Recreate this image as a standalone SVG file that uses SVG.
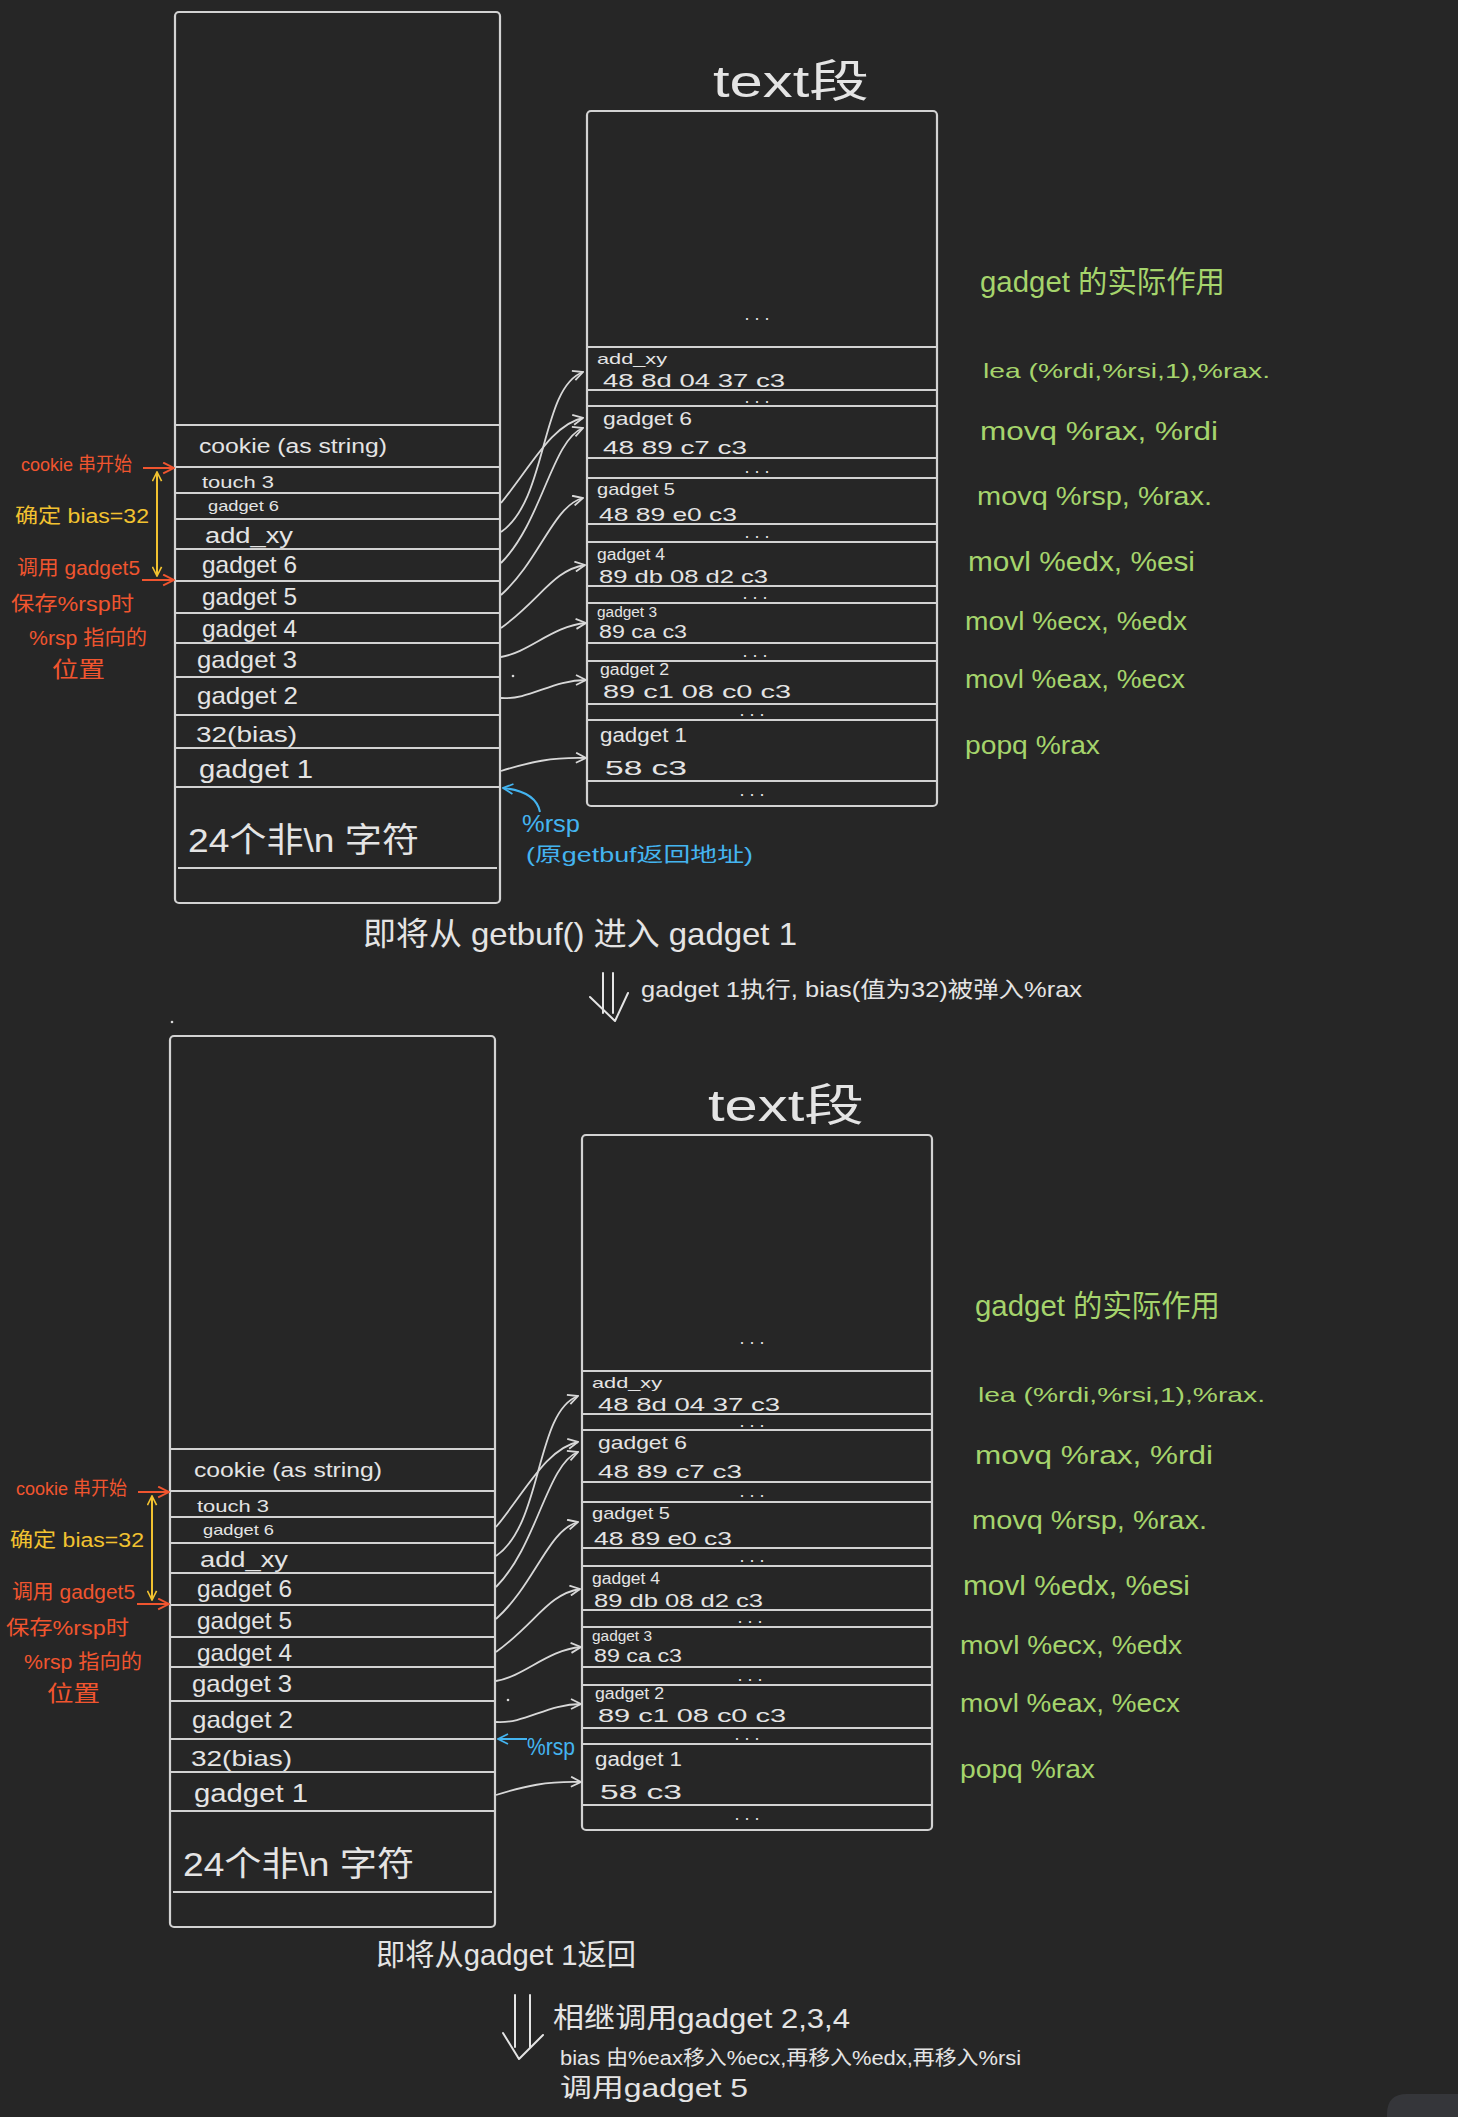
<svg xmlns="http://www.w3.org/2000/svg" width="1458" height="2117" viewBox="0 0 1458 2117">
<defs>
<style>
.ln{stroke:#d2d2d2;stroke-width:2;fill:none}
.bx{stroke:#d2d2d2;stroke-width:2.2;fill:none}
text{font-family:"Liberation Sans","Noto Sans CJK SC",sans-serif}
.w{fill:#e4e4e4}
.r{fill:#f0552f}
.y{fill:#f2c230}
.b{fill:#44b4f0}
.g{fill:#a5d46c}
.d{fill:#e4e4e4;font-size:18px;text-anchor:middle}
.cn{stroke:#d8d8d8;stroke-width:1.8;fill:none;marker-end:url(#ah)}
.ra{stroke:#f0552f;stroke-width:2;fill:none;marker-end:url(#ahr)}
.ya{stroke:#f2c230;stroke-width:2;fill:none;marker-end:url(#ahy);marker-start:url(#ahy)}
.ba{stroke:#44b4f0;stroke-width:2;fill:none;marker-end:url(#ahb)}
.dn{stroke:#e4e4e4;stroke-width:2;fill:none;stroke-linecap:round;stroke-linejoin:round}
</style>
<marker id="ah" viewBox="0 0 12 12" refX="11" refY="6" markerWidth="12" markerHeight="12" markerUnits="userSpaceOnUse" orient="auto"><path d="M1,1 L11,6 L1,11" fill="none" stroke="#d8d8d8" stroke-width="1.8"/></marker>
<marker id="ahr" viewBox="0 0 12 12" refX="11" refY="6" markerWidth="13" markerHeight="13" markerUnits="userSpaceOnUse" orient="auto"><path d="M1,1 L11,6 L1,11" fill="none" stroke="#f0552f" stroke-width="1.8"/></marker>
<marker id="ahy" viewBox="0 0 12 12" refX="11" refY="6" markerWidth="11" markerHeight="11" markerUnits="userSpaceOnUse" orient="auto-start-reverse"><path d="M1,1 L11,6 L1,11" fill="none" stroke="#f2c230" stroke-width="1.8"/></marker>
<marker id="ahb" viewBox="0 0 12 12" refX="11" refY="6" markerWidth="12" markerHeight="12" markerUnits="userSpaceOnUse" orient="auto"><path d="M1,1 L11,6 L1,11" fill="none" stroke="#44b4f0" stroke-width="1.8"/></marker>
</defs>
<rect x="0" y="0" width="1458" height="2117" fill="#262626"/>
<path d="M1387,2117 L1387,2114 Q1387,2094 1407,2094 L1458,2094 L1458,2117 Z" fill="#35363a"/>

<!-- ================= PANEL 1 ================= -->
<g id="panel1">
 <g id="p1-stack">
  <rect class="bx" x="175" y="12" width="325" height="891" rx="4"/>
  <path class="ln" d="M175,425H500M175,467H500M175,493H500M175,519H500M175,549H500M175,581H500M175,613H500M175,643H500M175,677H500M175,715H500M175,748H500M175,787H500M178,868H497"/>
  <g id="p1-cookie"><text class="w" x="199" y="453" font-size="20" textLength="188" lengthAdjust="spacingAndGlyphs">cookie (as string)</text></g>
  <g id="p1-touch3"><text class="w" x="202" y="488" font-size="16" textLength="72" lengthAdjust="spacingAndGlyphs">touch 3</text></g>
  <g id="p1-g6s"><text class="w" x="208" y="511" font-size="15" textLength="71" lengthAdjust="spacingAndGlyphs">gadget 6</text></g>
  <g id="p1-addxy"><text class="w" x="205" y="543" font-size="22" textLength="88" lengthAdjust="spacingAndGlyphs">add_xy</text></g>
  <g id="p1-g6"><text class="w" x="202" y="573" font-size="24" textLength="95" lengthAdjust="spacingAndGlyphs">gadget 6</text></g>
  <g id="p1-g5"><text class="w" x="202" y="605" font-size="24" textLength="95" lengthAdjust="spacingAndGlyphs">gadget 5</text></g>
  <g id="p1-g4"><text class="w" x="202" y="637" font-size="24" textLength="95" lengthAdjust="spacingAndGlyphs">gadget 4</text></g>
  <g id="p1-g3"><text class="w" x="197" y="668" font-size="24" textLength="100" lengthAdjust="spacingAndGlyphs">gadget 3</text></g>
  <g id="p1-g2"><text class="w" x="197" y="704" font-size="24" textLength="101" lengthAdjust="spacingAndGlyphs">gadget 2</text></g>
  <g id="p1-bias"><text class="w" x="196" y="742" font-size="22" textLength="101" lengthAdjust="spacingAndGlyphs">32(bias)</text></g>
  <g id="p1-g1"><text class="w" x="199" y="778" font-size="26" textLength="114" lengthAdjust="spacingAndGlyphs">gadget 1</text></g>
  <g id="p1-buf"><text class="w" x="188" y="852" font-size="34" textLength="231" lengthAdjust="spacingAndGlyphs">24个非\n 字符</text></g>
 </g>
 <g id="p1-notes">
  <text class="r" x="21" y="471" font-size="19" textLength="111" lengthAdjust="spacingAndGlyphs">cookie 串开始</text>
  <text class="y" x="15" y="523" font-size="20" textLength="134" lengthAdjust="spacingAndGlyphs">确定 bias=32</text>
  <text class="r" x="17" y="575" font-size="20" textLength="123" lengthAdjust="spacingAndGlyphs">调用 gadget5</text>
  <text class="r" x="11" y="611" font-size="20" textLength="123" lengthAdjust="spacingAndGlyphs">保存%rsp时</text>
  <text class="r" x="29" y="645" font-size="20" textLength="118" lengthAdjust="spacingAndGlyphs">%rsp 指向的</text>
  <text class="r" x="52" y="677" font-size="22" textLength="53" lengthAdjust="spacingAndGlyphs">位置</text>
  <path class="ra" d="M143,468H174"/>
  <path class="ra" d="M142,580H174"/>
  <path class="ya" d="M157,472V576"/>
 </g>
 <g id="p1-rsp">
  <path class="ba" d="M540,812 C537,797 523,790 503,788"/>
  <text class="b" x="522" y="832" font-size="24" textLength="58" lengthAdjust="spacingAndGlyphs">%rsp</text>
  <text class="b" x="526" y="862" font-size="20" textLength="227" lengthAdjust="spacingAndGlyphs">(原getbuf返回地址)</text>
 </g>
 <g id="p1-textseg">
  <text class="w" x="713" y="97" font-size="44" textLength="156" lengthAdjust="spacingAndGlyphs">text段</text>
  <rect class="bx" x="587" y="111" width="350" height="695" rx="4"/>
  <path class="ln" d="M587,347H937M587,390H937M587,406H937M587,458H937M587,478H937M587,524H937M587,542H937M587,586H937M587,603H937M587,643H937M587,661H937M587,704H937M587,720H937M587,781H937"/>
  <text class="d" x="757" y="320">. . .</text>
  <g id="p1-t-addxy"><text class="w" x="597" y="364" font-size="15" textLength="70" lengthAdjust="spacingAndGlyphs">add_xy</text><text class="w" x="603" y="387" font-size="19" textLength="182" lengthAdjust="spacingAndGlyphs">48 8d  04 37 c3</text></g>
  <text class="d" x="757" y="403">. . .</text>
  <g id="p1-t-g6"><text class="w" x="603" y="425" font-size="19" textLength="89" lengthAdjust="spacingAndGlyphs">gadget 6</text><text class="w" x="603" y="454" font-size="19" textLength="144" lengthAdjust="spacingAndGlyphs">48 89 c7 c3</text></g>
  <text class="d" x="757" y="473">. . .</text>
  <g id="p1-t-g5"><text class="w" x="597" y="495" font-size="17" textLength="78" lengthAdjust="spacingAndGlyphs">gadget 5</text><text class="w" x="599" y="521" font-size="19" textLength="138" lengthAdjust="spacingAndGlyphs">48 89 e0 c3</text></g>
  <text class="d" x="757" y="538">. . .</text>
  <g id="p1-t-g4"><text class="w" x="597" y="560" font-size="16" textLength="68" lengthAdjust="spacingAndGlyphs">gadget 4</text><text class="w" x="599" y="583" font-size="19" textLength="169" lengthAdjust="spacingAndGlyphs">89 db 08 d2  c3</text></g>
  <text class="d" x="755" y="599">. . .</text>
  <g id="p1-t-g3"><text class="w" x="597" y="617" font-size="14" textLength="60" lengthAdjust="spacingAndGlyphs">gadget 3</text><text class="w" x="599" y="638" font-size="18" textLength="88" lengthAdjust="spacingAndGlyphs">89 ca  c3</text></g>
  <text class="d" x="755" y="657">. . .</text>
  <g id="p1-t-g2"><text class="w" x="600" y="675" font-size="16" textLength="69" lengthAdjust="spacingAndGlyphs">gadget 2</text><text class="w" x="603" y="698" font-size="19" textLength="188" lengthAdjust="spacingAndGlyphs">89 c1  08 c0  c3</text></g>
  <text class="d" x="752" y="716">. . .</text>
  <g id="p1-t-g1"><text class="w" x="600" y="742" font-size="20" textLength="87" lengthAdjust="spacingAndGlyphs">gadget 1</text><text class="w" x="605" y="775" font-size="20" textLength="82" lengthAdjust="spacingAndGlyphs">58   c3</text></g>
  <text class="d" x="752" y="796">. . .</text>
 </g>
 <g id="p1-effects">
  <text class="g" x="980" y="292" font-size="30" textLength="245" lengthAdjust="spacingAndGlyphs">gadget 的实际作用</text>
  <text class="g" x="983" y="378" font-size="21" textLength="287" lengthAdjust="spacingAndGlyphs">lea  (%rdi,%rsi,1),%rax.</text>
  <text class="g" x="980" y="440" font-size="26" textLength="238" lengthAdjust="spacingAndGlyphs">movq  %rax, %rdi</text>
  <text class="g" x="977" y="505" font-size="26" textLength="235" lengthAdjust="spacingAndGlyphs">movq  %rsp, %rax.</text>
  <text class="g" x="968" y="571" font-size="28" textLength="227" lengthAdjust="spacingAndGlyphs">movl  %edx, %esi</text>
  <text class="g" x="965" y="630" font-size="26" textLength="222" lengthAdjust="spacingAndGlyphs">movl  %ecx, %edx</text>
  <text class="g" x="965" y="688" font-size="26" textLength="220" lengthAdjust="spacingAndGlyphs">movl  %eax, %ecx</text>
  <text class="g" x="965" y="754" font-size="26" textLength="135" lengthAdjust="spacingAndGlyphs">popq  %rax</text>
 </g>
 <g id="p1-connectors">
  <path class="cn" d="M501,503 C530,468 552,424 583,418"/>
  <path class="cn" d="M501,532 C548,500 540,388 583,372"/>
  <path class="cn" d="M501,563 C542,522 552,440 583,428"/>
  <path class="cn" d="M501,595 C540,560 553,506 583,498"/>
  <path class="cn" d="M501,628 C540,600 553,570 585,565"/>
  <path class="cn" d="M501,657 C530,652 552,626 586,623"/>
  <path class="cn" d="M501,698 C530,700 552,680 586,680"/>
  <path class="cn" d="M501,771 C530,762 552,757 586,758"/>
 </g>
 <circle cx="513" cy="676" r="1.3" fill="#d8d8d8"/>
</g>

<g id="step1">
 <text class="w" x="363" y="945" font-size="32" textLength="434" lengthAdjust="spacingAndGlyphs">即将从 getbuf() 进入 gadget 1</text>
 <path class="dn" d="M603,973V1013M613,973V1013M590,997L615,1021L628,993"/>
 <text class="w" x="641" y="997" font-size="22" textLength="441" lengthAdjust="spacingAndGlyphs">gadget 1执行, bias(值为32)被弹入%rax</text>
 <circle cx="172" cy="1022" r="1.3" fill="#d8d8d8"/>
</g>

<!-- ================= PANEL 2 ================= -->
<g id="panel2" transform="translate(-5,1024)">
 <g id="p2-stack">
  <rect class="bx" x="175" y="12" width="325" height="891" rx="4"/>
  <path class="ln" d="M175,425H500M175,467H500M175,493H500M175,519H500M175,549H500M175,581H500M175,613H500M175,643H500M175,677H500M175,715H500M175,748H500M175,787H500M178,868H497"/>
  <g id="p2-cookie"><text class="w" x="199" y="453" font-size="20" textLength="188" lengthAdjust="spacingAndGlyphs">cookie (as string)</text></g>
  <g id="p2-touch3"><text class="w" x="202" y="488" font-size="16" textLength="72" lengthAdjust="spacingAndGlyphs">touch 3</text></g>
  <g id="p2-g6s"><text class="w" x="208" y="511" font-size="15" textLength="71" lengthAdjust="spacingAndGlyphs">gadget 6</text></g>
  <g id="p2-addxy"><text class="w" x="205" y="543" font-size="22" textLength="88" lengthAdjust="spacingAndGlyphs">add_xy</text></g>
  <g id="p2-g6"><text class="w" x="202" y="573" font-size="24" textLength="95" lengthAdjust="spacingAndGlyphs">gadget 6</text></g>
  <g id="p2-g5"><text class="w" x="202" y="605" font-size="24" textLength="95" lengthAdjust="spacingAndGlyphs">gadget 5</text></g>
  <g id="p2-g4"><text class="w" x="202" y="637" font-size="24" textLength="95" lengthAdjust="spacingAndGlyphs">gadget 4</text></g>
  <g id="p2-g3"><text class="w" x="197" y="668" font-size="24" textLength="100" lengthAdjust="spacingAndGlyphs">gadget 3</text></g>
  <g id="p2-g2"><text class="w" x="197" y="704" font-size="24" textLength="101" lengthAdjust="spacingAndGlyphs">gadget 2</text></g>
  <g id="p2-bias"><text class="w" x="196" y="742" font-size="22" textLength="101" lengthAdjust="spacingAndGlyphs">32(bias)</text></g>
  <g id="p2-g1"><text class="w" x="199" y="778" font-size="26" textLength="114" lengthAdjust="spacingAndGlyphs">gadget 1</text></g>
  <g id="p2-buf"><text class="w" x="188" y="852" font-size="34" textLength="231" lengthAdjust="spacingAndGlyphs">24个非\n 字符</text></g>
 </g>
 <g id="p2-notes">
  <text class="r" x="21" y="471" font-size="19" textLength="111" lengthAdjust="spacingAndGlyphs">cookie 串开始</text>
  <text class="y" x="15" y="523" font-size="20" textLength="134" lengthAdjust="spacingAndGlyphs">确定 bias=32</text>
  <text class="r" x="17" y="575" font-size="20" textLength="123" lengthAdjust="spacingAndGlyphs">调用 gadget5</text>
  <text class="r" x="11" y="611" font-size="20" textLength="123" lengthAdjust="spacingAndGlyphs">保存%rsp时</text>
  <text class="r" x="29" y="645" font-size="20" textLength="118" lengthAdjust="spacingAndGlyphs">%rsp 指向的</text>
  <text class="r" x="52" y="677" font-size="22" textLength="53" lengthAdjust="spacingAndGlyphs">位置</text>
  <path class="ra" d="M143,468H174"/>
  <path class="ra" d="M142,580H174"/>
  <path class="ya" d="M157,472V576"/>
 </g>
 <g id="p2-rsp">
  <path class="ba" d="M532,715H503"/>
  <text class="b" x="532" y="731" font-size="24" textLength="48" lengthAdjust="spacingAndGlyphs">%rsp</text>
 </g>
 <g id="p2-textseg">
  <text class="w" x="713" y="97" font-size="44" textLength="156" lengthAdjust="spacingAndGlyphs">text段</text>
  <rect class="bx" x="587" y="111" width="350" height="695" rx="4"/>
  <path class="ln" d="M587,347H937M587,390H937M587,406H937M587,458H937M587,478H937M587,524H937M587,542H937M587,586H937M587,603H937M587,643H937M587,661H937M587,704H937M587,720H937M587,781H937"/>
  <text class="d" x="757" y="320">. . .</text>
  <g id="p2-t-addxy"><text class="w" x="597" y="364" font-size="15" textLength="70" lengthAdjust="spacingAndGlyphs">add_xy</text><text class="w" x="603" y="387" font-size="19" textLength="182" lengthAdjust="spacingAndGlyphs">48 8d  04 37 c3</text></g>
  <text class="d" x="757" y="403">. . .</text>
  <g id="p2-t-g6"><text class="w" x="603" y="425" font-size="19" textLength="89" lengthAdjust="spacingAndGlyphs">gadget 6</text><text class="w" x="603" y="454" font-size="19" textLength="144" lengthAdjust="spacingAndGlyphs">48 89 c7 c3</text></g>
  <text class="d" x="757" y="473">. . .</text>
  <g id="p2-t-g5"><text class="w" x="597" y="495" font-size="17" textLength="78" lengthAdjust="spacingAndGlyphs">gadget 5</text><text class="w" x="599" y="521" font-size="19" textLength="138" lengthAdjust="spacingAndGlyphs">48 89 e0 c3</text></g>
  <text class="d" x="757" y="538">. . .</text>
  <g id="p2-t-g4"><text class="w" x="597" y="560" font-size="16" textLength="68" lengthAdjust="spacingAndGlyphs">gadget 4</text><text class="w" x="599" y="583" font-size="19" textLength="169" lengthAdjust="spacingAndGlyphs">89 db 08 d2  c3</text></g>
  <text class="d" x="755" y="599">. . .</text>
  <g id="p2-t-g3"><text class="w" x="597" y="617" font-size="14" textLength="60" lengthAdjust="spacingAndGlyphs">gadget 3</text><text class="w" x="599" y="638" font-size="18" textLength="88" lengthAdjust="spacingAndGlyphs">89 ca  c3</text></g>
  <text class="d" x="755" y="657">. . .</text>
  <g id="p2-t-g2"><text class="w" x="600" y="675" font-size="16" textLength="69" lengthAdjust="spacingAndGlyphs">gadget 2</text><text class="w" x="603" y="698" font-size="19" textLength="188" lengthAdjust="spacingAndGlyphs">89 c1  08 c0  c3</text></g>
  <text class="d" x="752" y="716">. . .</text>
  <g id="p2-t-g1"><text class="w" x="600" y="742" font-size="20" textLength="87" lengthAdjust="spacingAndGlyphs">gadget 1</text><text class="w" x="605" y="775" font-size="20" textLength="82" lengthAdjust="spacingAndGlyphs">58   c3</text></g>
  <text class="d" x="752" y="796">. . .</text>
 </g>
 <g id="p2-effects">
  <text class="g" x="980" y="292" font-size="30" textLength="245" lengthAdjust="spacingAndGlyphs">gadget 的实际作用</text>
  <text class="g" x="983" y="378" font-size="21" textLength="287" lengthAdjust="spacingAndGlyphs">lea  (%rdi,%rsi,1),%rax.</text>
  <text class="g" x="980" y="440" font-size="26" textLength="238" lengthAdjust="spacingAndGlyphs">movq  %rax, %rdi</text>
  <text class="g" x="977" y="505" font-size="26" textLength="235" lengthAdjust="spacingAndGlyphs">movq  %rsp, %rax.</text>
  <text class="g" x="968" y="571" font-size="28" textLength="227" lengthAdjust="spacingAndGlyphs">movl  %edx, %esi</text>
  <text class="g" x="965" y="630" font-size="26" textLength="222" lengthAdjust="spacingAndGlyphs">movl  %ecx, %edx</text>
  <text class="g" x="965" y="688" font-size="26" textLength="220" lengthAdjust="spacingAndGlyphs">movl  %eax, %ecx</text>
  <text class="g" x="965" y="754" font-size="26" textLength="135" lengthAdjust="spacingAndGlyphs">popq  %rax</text>
 </g>
 <g id="p2-connectors">
  <path class="cn" d="M501,503 C530,468 552,424 583,418"/>
  <path class="cn" d="M501,532 C548,500 540,388 583,372"/>
  <path class="cn" d="M501,563 C542,522 552,440 583,428"/>
  <path class="cn" d="M501,595 C540,560 553,506 583,498"/>
  <path class="cn" d="M501,628 C540,600 553,570 585,565"/>
  <path class="cn" d="M501,657 C530,652 552,626 586,623"/>
  <path class="cn" d="M501,698 C530,700 552,680 586,680"/>
  <path class="cn" d="M501,771 C530,762 552,757 586,758"/>
 </g>
 <circle cx="513" cy="676" r="1.3" fill="#d8d8d8"/>
</g>

<g id="step2">
 <text class="w" x="376" y="1965" font-size="30" textLength="260" lengthAdjust="spacingAndGlyphs">即将从gadget 1返回</text>
 <path class="dn" d="M515,1995V2047M530,1995V2047M503,2033L519,2059L543,2035"/>
 <text class="w" x="553" y="2028" font-size="28" textLength="297" lengthAdjust="spacingAndGlyphs">相继调用gadget 2,3,4</text>
 <text class="w" x="560" y="2065" font-size="20" textLength="461" lengthAdjust="spacingAndGlyphs">bias 由%eax移入%ecx,再移入%edx,再移入%rsi</text>
 <text class="w" x="560" y="2097" font-size="26" textLength="188" lengthAdjust="spacingAndGlyphs">调用gadget 5</text>
</g>
</svg>
